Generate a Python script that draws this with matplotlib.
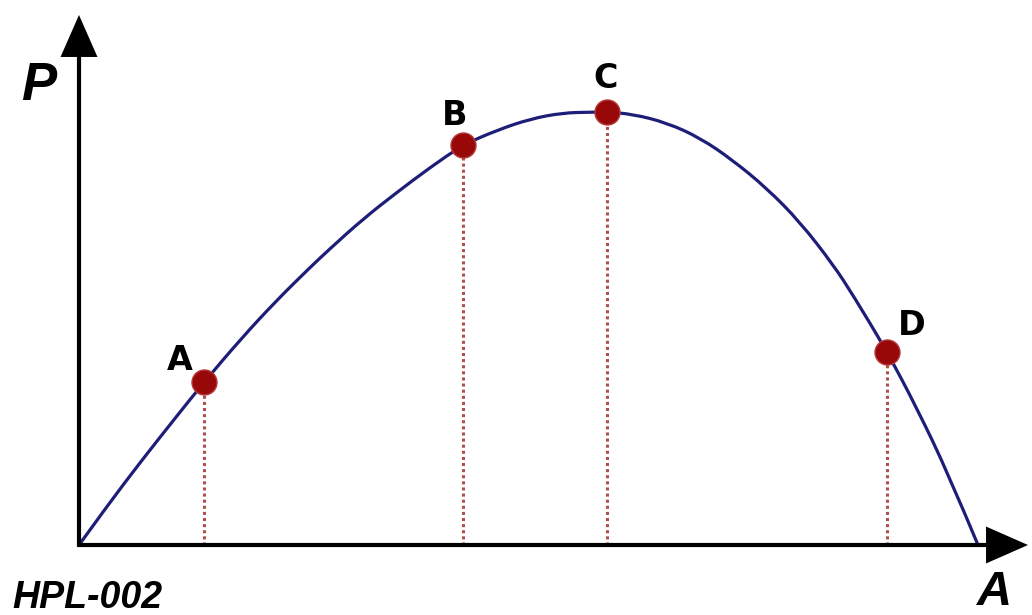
import matplotlib
matplotlib.use("Agg")
import matplotlib.pyplot as plt
from matplotlib.path import Path
from matplotlib.patches import PathPatch

# ---- data ----
curve_A = [0, 3.2, 7.0, 10.7, 13.9, 18.1, 21.8, 25.5, 27.9, 31.6, 35.4, 39.0,
           42.7, 46.5, 50.2, 53.8, 56.8, 58.7, 61.6, 65.4, 69.1, 72.7, 76.5,
           80.2, 83.9, 86.1, 89.9, 93.2, 96.7, 100]
curve_P = [0, 9.2, 19.6, 29.3, 37.6, 47.8, 56.1, 63.7, 68.4, 75.3, 81.5, 87.1,
           92.4, 95.8, 98.4, 99.8, 99.95, 100, 99.5, 97.5, 94.0, 88.9, 82.4,
           74.6, 64.7, 57.7, 44.6, 31.6, 16.4, 0]

point_labels = ["A", "B", "C", "D"]
point_A = [13.9, 42.7, 58.7, 89.9]
point_P = [37.6, 92.4, 100.0, 44.6]
# label offsets (points) relative to each marker
label_dx = [-17.3, -5.8, -0.7, 18.0]
label_dy = [8.6, 14.4, 17.3, 12.2]

axis_x_label = "A"
axis_y_label = "P"
corner_text = "HPL-002"

# ---- figure ----
W, H = 1032, 615
fig = plt.figure(figsize=(W / 100, H / 100), dpi=100)
fig.patch.set_facecolor("white")
ax = fig.add_axes([0, 0, 1, 1])
ax.set_facecolor("white")

# data -> pixel mapping: origin at px (79, 545), 8.99 px per A unit, 4.33 px per P unit
ox, oy, sx, sy = 79, 545, 8.99, 4.33
ax.set_xlim(-ox / sx, (W - ox) / sx)
ax.set_ylim(-(H - oy) / sy, oy / sy)
ax.axis("off")

x_tip = (1028 - ox) / sx
y_tip = (oy - 15) / sy

# axes with arrowheads
arrow_kw = dict(arrowstyle="-|>,head_length=1.25,head_width=0.55",
                lw=3.0, color="black", shrinkA=0, shrinkB=0,
                mutation_scale=20, joinstyle="miter", capstyle="butt")
ax.annotate("", xy=(x_tip, 0), xytext=(-0.2, 0), arrowprops=arrow_kw, zorder=5)
ax.annotate("", xy=(0, y_tip), xytext=(0, -0.4), arrowprops=arrow_kw, zorder=5)

# dotted drop lines
for xa, pa in zip(point_A, point_P):
    ax.plot([xa, xa], [0, pa], linestyle=(0, (1.0, 1.0)), color="#b0504c",
            lw=2.2, zorder=2)

# curve: smooth quadratic-Bezier rendering through the read points
pts = list(zip(curve_A, curve_P))
verts = [pts[0]]
codes = [Path.MOVETO]
for i in range(1, len(pts) - 1):
    mid = ((pts[i][0] + pts[i + 1][0]) / 2, (pts[i][1] + pts[i + 1][1]) / 2)
    if i == len(pts) - 2:
        mid = pts[-1]
    verts += [pts[i], mid]
    codes += [Path.CURVE3, Path.CURVE3]
curve_patch = PathPatch(Path(verts, codes), facecolor="none",
                        edgecolor="#1e1e78", lw=2.3, capstyle="round",
                        zorder=3)
ax.add_patch(curve_patch)

# markers
ax.plot(point_A, point_P, linestyle="none", marker="o", markersize=18,
        markerfacecolor="#990808", markeredgecolor="#b33a3a",
        markeredgewidth=1.0, zorder=4)

# point labels
for lab, xa, pa, dx, dy in zip(point_labels, point_A, point_P, label_dx, label_dy):
    ax.annotate(lab, xy=(xa, pa), xytext=(dx, dy), textcoords="offset points",
                ha="center", va="baseline", fontsize=24, fontweight="bold",
                family="DejaVu Sans", color="black", zorder=6)

# axis labels and corner text
fig.text(39 / W, 1 - 100 / H, axis_y_label, ha="center", va="baseline",
         fontsize=38, fontweight="bold", fontstyle="italic",
         family="Liberation Sans", color="black")
fig.text(995 / W, 1 - 605 / H, axis_x_label, ha="center", va="baseline",
         fontsize=35, fontweight="bold", fontstyle="italic",
         family="Liberation Sans", color="black")
fig.text(12 / W, 1 - 608 / H, corner_text, ha="left", va="baseline",
         fontsize=27, fontweight="bold", fontstyle="italic",
         family="Liberation Sans", color="black")

fig.savefig("out.png", dpi=100, facecolor="white")
